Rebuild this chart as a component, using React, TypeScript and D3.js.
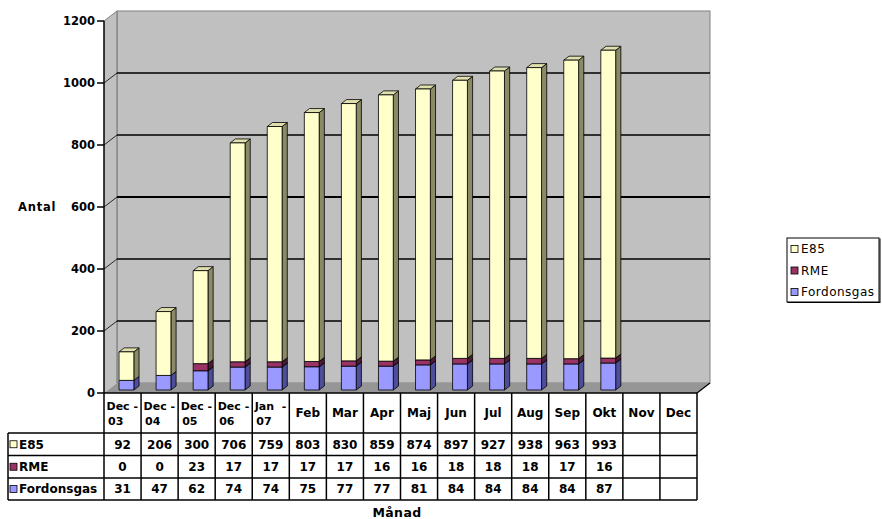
import React from "react";
import * as d3 from "d3";

const categories = ["Dec-03", "Dec-04", "Dec-05", "Dec-06", "Jan-07", "Feb", "Mar", "Apr", "Maj", "Jun", "Jul", "Aug", "Sep", "Okt", "Nov", "Dec"];
const e85: (number | null)[] = [92, 206, 300, 706, 759, 803, 830, 859, 874, 897, 927, 938, 963, 993, null, null];
const rme: (number | null)[] = [0, 0, 23, 17, 17, 17, 17, 16, 16, 18, 18, 18, 17, 16, null, null];
const fordonsgas: (number | null)[] = [31, 47, 62, 74, 74, 75, 77, 77, 81, 84, 84, 84, 84, 87, null, null];
const yTicks = [0, 200, 400, 600, 800, 1000, 1200];

const series = [
  { name: "Fordonsgas", values: fordonsgas, front: "#9999FF", side: "#4D4D99", top: "#7A7ACC" },
  { name: "RME", values: rme, front: "#993366", side: "#4D1A33", top: "#7A2952" },
  { name: "E85", values: e85, front: "#FFFFCC", side: "#8A8A66", top: "#E0E0AE" },
];
const tableRows = [series[2], series[1], series[0]];

const W = 882, H = 519;
const X0 = 104, X1 = 697;
const Y0 = 393, Y1 = 21;
const DX = 13, DY = -10;
const FONT = "'DejaVu Sans', Verdana, sans-serif";

export default function App() {
  const x = d3.scaleBand<string>().domain(categories).range([X0, X1]).padding(0);
  const y = d3.scaleLinear().domain([0, 1200]).range([Y0, Y1]);
  const bw = x.bandwidth();
  const barW = bw * 0.4;
  const z0 = 0.3, z1 = 0.7;
  const bdx = DX * (z1 - z0), bdy = DY * (z1 - z0);

  const bars: React.ReactNode[] = [];
  categories.forEach((c, i) => {
    let acc = 0;
    series.forEach((s) => {
      const v = s.values[i];
      if (v == null || v === 0) return;
      const yb = y(acc) + DY * z0;
      const yt = y(acc + v) + DY * z0;
      acc += v;
      const xl = (x(c) as number) + (bw - barW) / 2 + DX * z0;
      const xr = xl + barW;
      bars.push(
        <g key={c + s.name} stroke="#000" strokeWidth={0.8} strokeLinejoin="round">
          <polygon points={`${xr},${yb} ${xr + bdx},${yb + bdy} ${xr + bdx},${yt + bdy} ${xr},${yt}`} fill={s.side} />
          <polygon points={`${xl},${yt} ${xl + bdx},${yt + bdy} ${xr + bdx},${yt + bdy} ${xr},${yt}`} fill={s.top} />
          <rect x={xl} y={yt} width={barW} height={yb - yt} fill={s.front} />
        </g>
      );
    });
  });

  const rowY = [393, 433, 455.5, 478, 500];
  const labelX0 = 8;

  return (
    <svg width={W} height={H} style={{ position: "absolute", left: 0, top: 0, background: "#fff" }} fontFamily={FONT}>
      {/* back wall */}
      <rect x={X0 + DX} y={Y1 + DY} width={X1 - X0} height={Y0 - Y1} fill="#C0C0C0" stroke="#808080" strokeWidth={1} />
      {/* left wall */}
      <polygon points={`${X0},${Y1} ${X0 + DX},${Y1 + DY} ${X0 + DX},${Y0 + DY} ${X0},${Y0}`} fill="#C0C0C0" />
      <line x1={X0 + DX} x2={X0 + DX} y1={Y1 + DY} y2={Y0 + DY} stroke="#8a8a8a" strokeWidth={1.5} />
      {/* floor */}
      <polygon points={`${X0},${Y0} ${X0 + DX},${Y0 + DY} ${X1 + DX},${Y0 + DY} ${X1},${Y0}`} fill="#969696" />
      <line x1={X1} y1={Y0} x2={X1 + DX} y2={Y0 + DY} stroke="#000" strokeWidth={1.2} />
      {/* gridlines */}
      {yTicks.filter((t) => t > 0 && t < 1200).map((t) => (
        <g key={t}>
          <line x1={X0 + DX} x2={X1 + DX} y1={y(t) + DY} y2={y(t) + DY} stroke="#000" strokeWidth={t === 600 ? 2 : 1.3} />
          <line x1={X0} x2={X0 + DX} y1={y(t)} y2={y(t) + DY} stroke="#000" strokeWidth={0.8} />
        </g>
      ))}
      <line x1={X0} x2={X0 + DX} y1={Y1} y2={Y1 + DY} stroke="#808080" strokeWidth={1} />
      {/* y axis */}
      <line x1={X0} x2={X0} y1={Y1} y2={Y0} stroke="#000" strokeWidth={1.5} />
      {yTicks.map((t) => (
        <g key={"yt" + t}>
          <line x1={X0 - 7} x2={X0} y1={y(t)} y2={y(t)} stroke="#000" strokeWidth={1.5} />
          <text x={X0 - 9} y={y(t)} dy="0.36em" textAnchor="end" fontSize={11.5} fontWeight="bold">{t}</text>
        </g>
      ))}
      <text x={18} y={207} dy="0.35em" fontSize={11.5} fontWeight="bold" letterSpacing={0.8}>Antal</text>
      {bars}
      {/* data table */}
      <g stroke="#000" strokeWidth={1.5} fill="none">
        <line x1={X0} x2={X1} y1={rowY[0]} y2={rowY[0]} />
        {rowY.slice(1).map((ry) => (
          <line key={"h" + ry} x1={labelX0} x2={X1} y1={ry} y2={ry} />
        ))}
        <line x1={labelX0} x2={labelX0} y1={rowY[1]} y2={rowY[4]} />
        {categories.map((c) => (
          <line key={"v" + c} x1={x(c) as number} x2={x(c) as number} y1={rowY[0]} y2={rowY[4]} />
        ))}
        <line x1={X1} x2={X1} y1={rowY[0]} y2={rowY[4]} />
      </g>
      {categories.map((c) => {
        const left = x(c) as number;
        const parts = c.split("-");
        if (parts.length === 2) {
          return (
            <g key={"lab" + c} fontSize={11} fontWeight="bold">
              <text x={left + 2.5} y={406} dy="0.35em">{parts[0]}</text>
              <text x={left + bw - 3} y={406} dy="0.35em" textAnchor="end">-</text>
              <text x={left + 4} y={421} dy="0.35em">{parts[1]}</text>
            </g>
          );
        }
        return (
          <text key={"lab" + c} x={left + bw / 2} y={413} dy="0.35em" textAnchor="middle" fontSize={12} fontWeight="bold">{c}</text>
        );
      })}
      {tableRows.map((s, r) => {
        const cy = (rowY[r + 1] + rowY[r + 2]) / 2;
        return (
          <g key={"row" + s.name}>
            <rect x={10} y={cy - 3.5} width={7} height={7} fill={s.front} stroke="#000" strokeWidth={0.8} />
            <text x={19} y={cy} dy="0.36em" fontSize={12} fontWeight="bold">{s.name}</text>
            {categories.map((c, i) => {
              const v = s.values[i];
              if (v == null) return null;
              return (
                <text key={c} x={(x(c) as number) + bw / 2} y={cy} dy="0.36em" textAnchor="middle" fontSize={12} fontWeight="bold">{v}</text>
              );
            })}
          </g>
        );
      })}
      <text x={397} y={513} dy="0.35em" textAnchor="middle" fontSize={12.5} fontWeight="bold" letterSpacing={0.4}>Månad</text>
      {/* legend */}
      <rect x={787} y={238} width={92} height={64} fill="#fff" stroke="#000" strokeWidth={1} />
      <line x1={787.5} x2={880} y1={302.5} y2={302.5} stroke="#000" strokeWidth={1} />
      <line x1={880} x2={880} y1={238.5} y2={303} stroke="#000" strokeWidth={1} />
      {tableRows.map((s, i) => {
        const cy = 249 + i * 21.5;
        return (
          <g key={"leg" + s.name}>
            <rect x={791} y={cy - 3.5} width={7} height={7} fill={s.front} stroke="#000" strokeWidth={0.8} />
            <text x={801} y={cy} dy="0.35em" fontSize={12} letterSpacing={0.5}>{s.name}</text>
          </g>
        );
      })}
    </svg>
  );
}
